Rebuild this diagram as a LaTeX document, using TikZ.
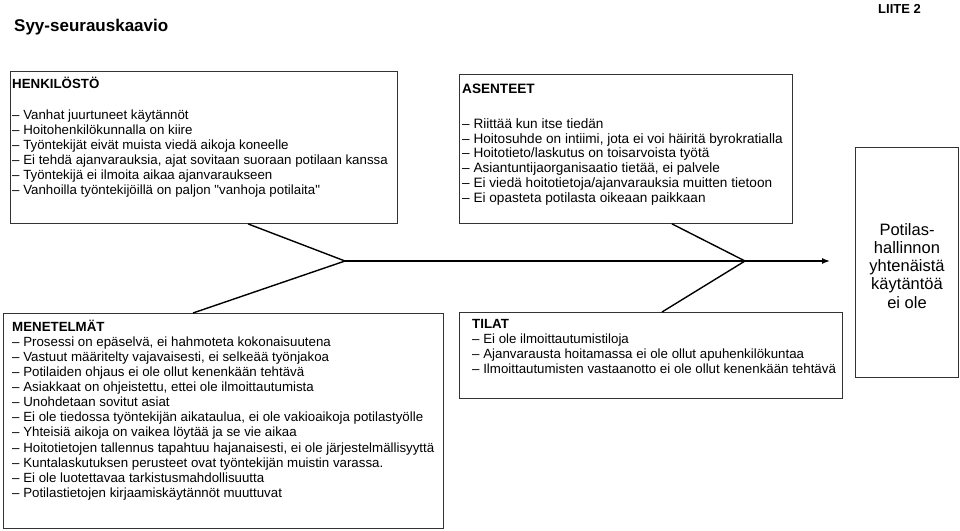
\documentclass[tikz,border=0pt]{standalone}
\usepackage{fontspec}
\setmainfont{Liberation Sans}
\usetikzlibrary{positioning,calc,arrows.meta}

\tikzset{
  causebox/.style={draw=black!80, line width=0.9pt, inner sep=0pt, anchor=north west},
  causetext/.style={anchor=north west, align=left, inner sep=0pt,
                    font=\fontsize{13.3}{15.1}\selectfont},
  bone/.style={line width=1.4pt, black},
}
\newcommand{\topstrut}[1]{\rule{0pt}{#1}}

\begin{document}
\begin{tikzpicture}[x=1pt,y=-1pt]
                \useasboundingbox (0,0) rectangle (960,530);
                % otsikot
                \node[anchor=base west, inner sep=0pt, font=\bfseries\fontsize{17}{20}\selectfont] (title) at (14,31) {Syy-seurauskaavio};
                \node[anchor=base west, inner sep=0pt, font=\bfseries\fontsize{13}{15}\selectfont] (liite) at (878,13) {LIITE 2};
                % laatikot
                \node[causebox, minimum width=387pt, minimum height=152pt] (henk) at (10,71) {};
                \node[causebox, minimum width=333pt, minimum height=149pt] (asen) at (459,74) {};
                \node[causebox, minimum width=440pt, minimum height=215pt] (mene) at (3,313) {};
                \node[causebox, minimum width=383pt, minimum height=86pt] (tila) at (459,312) {};
                \node[causebox, minimum width=103pt, minimum height=230pt] (tulos) at (855,147) {};
                % tekstit (ylärivin perusviiva = kulma + 13pt)
                \node[causetext] (henktext) at (12,75) {\topstrut{13pt}\textbf{HENKILÖSTÖ}\\[16pt]
                  – Vanhat juurtuneet käytännöt\\
                  – Hoitohenkilökunnalla on kiire\\
                  – Työntekijät eivät muista viedä aikoja koneelle\\
                  – Ei tehdä ajanvarauksia, ajat sovitaan suoraan potilaan kanssa\\
                  – Työntekijä ei ilmoita aikaa ajanvaraukseen\\
                  – Vanhoilla työntekijöillä on paljon \textquotedbl vanhoja potilaita\textquotedbl};
                \node[causetext, font=\fontsize{13.6}{14.9}\selectfont] (asentext) at (462,80) {\topstrut{13pt}\textbf{ASENTEET}\\[20pt]
                  – Riittää kun itse tiedän\\
                  – Hoitosuhde on intiimi, jota ei voi häiritä byrokratialla\\
                  – Hoitotieto/laskutus on toisarvoista työtä\\
                  – Asiantuntijaorganisaatio tietää, ei palvele\\
                  – Ei viedä hoitotietoja/ajanvarauksia muitten tietoon\\
                  – Ei opasteta potilasta oikeaan paikkaan};
                \node[causetext] (menetext) at (12,318) {\topstrut{13pt}\textbf{MENETELMÄT}\\
                  – Prosessi on epäselvä, ei hahmoteta kokonaisuutena\\
                  – Vastuut määritelty vajavaisesti, ei selkeää työnjakoa\\
                  – Potilaiden ohjaus ei ole ollut kenenkään tehtävä\\
                  – Asiakkaat on ohjeistettu, ettei ole ilmoittautumista\\
                  – Unohdetaan sovitut asiat\\
                  – Ei ole tiedossa työntekijän aikataulua, ei ole vakioaikoja potilastyölle\\
                  – Yhteisiä aikoja on vaikea löytää ja se vie aikaa\\
                  – Hoitotietojen tallennus tapahtuu hajanaisesti, ei ole järjestelmällisyyttä\\
                  – Kuntalaskutuksen perusteet ovat työntekijän muistin varassa.\\
                  – Ei ole luotettavaa tarkistusmahdollisuutta\\
                  – Potilastietojen kirjaamiskäytännöt muuttuvat};
                \node[causetext] (tilatext) at (472,315) {\topstrut{13pt}\textbf{TILAT}\\
                  – Ei ole ilmoittautumistiloja\\
                  – Ajanvarausta hoitamassa ei ole ollut apuhenkilökuntaa\\
                  – Ilmoittautumisten vastaanotto ei ole ollut kenenkään tehtävä};
                \node[anchor=north, align=center, inner sep=0pt, font=\fontsize{16.5}{18.2}\selectfont] (tulostext) at (907,219)
                  {\topstrut{16pt}Potilas-\\hallinnon\\yhtenäistä\\käytäntöä\\ei ole};
                % kalanruoto
                \coordinate (j1) at (345,261);
                \coordinate (j2) at (745,261);
                \coordinate (tip) at (830,261);
                \draw[bone] ($(henk.south west)+(238,0)$) -- (j1);
                \draw[bone] ($(mene.north west)+(190,0)$) -- (j1);
                \draw[bone] ($(asen.south west)+(213,0)$) -- (j2);
                \draw[bone] ($(tila.north west)+(203,0)$) -- (j2);
                \draw[bone, -{Latex[length=8pt,width=6pt]}] (j1) -- (tip);
            \end{tikzpicture}
\end{document}
